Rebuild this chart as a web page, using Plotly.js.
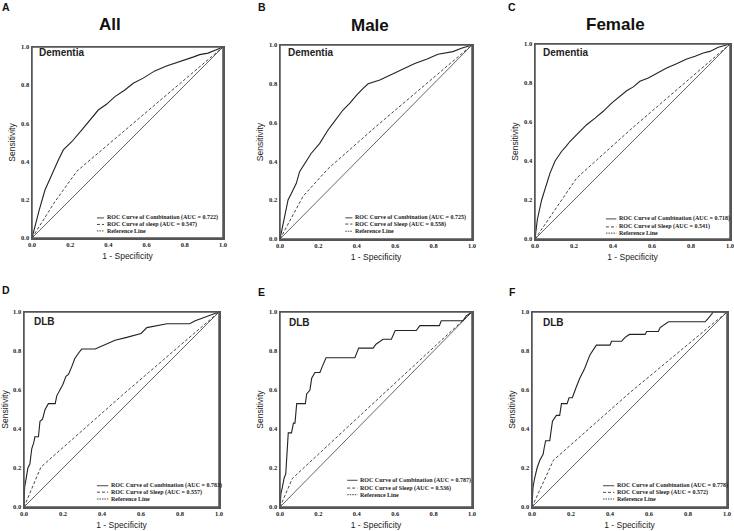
<!DOCTYPE html>
<html><head><meta charset="utf-8">
<script src="https://cdn.plot.ly/plotly-3.0.1.min.js"></script>
<style>html,body{margin:0;padding:0;background:#fff}#chart{width:734px;height:531px}</style>
</head><body><div id="chart"></div>
<script>
// ---------------- data ----------------
const panelLetters = ['A','B','C','D','E','F'];
const groupTitles = ['All','Male','Female'];
const outcomeLabels = ['Dementia','Dementia','Dementia','DLB','DLB','DLB'];
const combAUC = ['0.722','0.725','0.718','0.783','0.787','0.778'];
const sleepAUC = ['0.547','0.558','0.541','0.557','0.536','0.572'];
const sleepWord = ['sleep','Sleep','Sleep','Sleep','Sleep','Sleep'];
const tickVals = [0,0.2,0.4,0.6,0.8,1.0];
const tickText = ['0.0','0.2','0.4','0.6','0.8','1.0'];
const refX = [0,1];
const refY = [0,1];

const combA_fpr  = [0,0.012,0.025,0.038,0.068,0.098,0.138,0.164,0.208,0.26,0.321,0.347,0.39,0.434,0.486,0.53,0.582,0.643,0.704,0.782,0.843,0.878,0.922,0.965,1];
const combA_sens = [0,0.05,0.1,0.147,0.251,0.321,0.408,0.461,0.504,0.565,0.635,0.67,0.7,0.74,0.775,0.81,0.837,0.875,0.9,0.925,0.947,0.96,0.968,0.986,1];
const sleepA_fpr  = [0,0.12,0.235,0.5,0.75,0.9,1];
const sleepA_sens = [0,0.19,0.35,0.575,0.79,0.915,1];

const combB_fpr  = [0,0.01,0.021,0.042,0.059,0.085,0.102,0.128,0.163,0.207,0.25,0.276,0.312,0.328,0.364,0.399,0.433,0.459,0.52,0.572,0.624,0.659,0.702,0.763,0.823,0.901,0.945,1];
const combB_sens = [0,0.05,0.098,0.201,0.235,0.287,0.347,0.39,0.442,0.493,0.562,0.596,0.647,0.665,0.7,0.742,0.776,0.8,0.82,0.845,0.871,0.888,0.905,0.926,0.952,0.966,0.983,1];
const sleepB_fpr  = [0,0.12,0.25,0.5,0.75,0.9,1];
const sleepB_sens = [0,0.22,0.362,0.58,0.79,0.915,1];

const combC_fpr  = [0,0.012,0.034,0.055,0.077,0.103,0.137,0.159,0.179,0.214,0.239,0.265,0.308,0.35,0.393,0.436,0.47,0.504,0.538,0.581,0.624,0.675,0.726,0.778,0.821,0.863,0.897,0.94,1];
const combC_sens = [0,0.1,0.2,0.27,0.338,0.4,0.45,0.475,0.5,0.535,0.56,0.586,0.62,0.655,0.697,0.73,0.76,0.78,0.809,0.826,0.851,0.877,0.899,0.923,0.937,0.954,0.962,0.983,1];
const sleepC_fpr  = [0,0.214,0.5,0.75,0.9,1];
const sleepC_sens = [0,0.313,0.57,0.785,0.91,1];

const combD_fpr  = [0,0.003,0.01,0.02,0.03,0.04,0.05,0.056,0.074,0.082,0.095,0.108,0.125,0.16,0.168,0.185,0.2,0.215,0.228,0.245,0.26,0.28,0.296,0.365,0.39,0.42,0.467,0.527,0.56,0.6,0.63,0.68,0.733,0.85,0.878,0.92,0.964,1];
const combD_sens = [0,0.1,0.14,0.2,0.22,0.3,0.33,0.36,0.36,0.44,0.45,0.5,0.53,0.53,0.57,0.6,0.63,0.67,0.68,0.72,0.76,0.79,0.81,0.81,0.82,0.835,0.855,0.87,0.88,0.89,0.92,0.93,0.94,0.94,0.955,0.97,0.985,1];
const sleepD_fpr  = [0,0.087,0.5,1];
const sleepD_sens = [0,0.205,0.57,1];

const combE_fpr  = [0,0.005,0.012,0.022,0.03,0.035,0.043,0.06,0.07,0.078,0.087,0.132,0.139,0.156,0.165,0.182,0.208,0.22,0.24,0.39,0.4,0.41,0.485,0.5,0.537,0.58,0.6,0.71,0.728,0.83,0.84,0.953,0.97,1];
const combE_sens = [0,0.07,0.1,0.15,0.17,0.25,0.38,0.38,0.43,0.43,0.53,0.53,0.58,0.6,0.66,0.69,0.69,0.72,0.765,0.765,0.79,0.815,0.815,0.835,0.86,0.86,0.905,0.905,0.93,0.93,0.955,0.955,0.98,1];
const sleepE_fpr  = [0,0.064,0.5,0.85,1];
const sleepE_sens = [0,0.146,0.545,0.86,1];

const combF_fpr  = [0,0.005,0.014,0.026,0.04,0.057,0.062,0.07,0.091,0.096,0.105,0.125,0.142,0.151,0.18,0.19,0.207,0.225,0.245,0.27,0.297,0.33,0.4,0.408,0.46,0.477,0.5,0.58,0.588,0.648,0.657,0.7,0.888,0.906,0.93,1];
const combF_sens = [0,0.1,0.15,0.2,0.24,0.27,0.3,0.34,0.34,0.38,0.44,0.47,0.47,0.53,0.53,0.56,0.56,0.61,0.66,0.71,0.78,0.83,0.83,0.85,0.85,0.87,0.885,0.885,0.9,0.9,0.92,0.95,0.95,0.97,1,1];
const sleepF_fpr  = [0,0.11,0.5,1];
const sleepF_sens = [0,0.24,0.585,1];

const combFpr  = [combA_fpr, combB_fpr, combC_fpr, combD_fpr, combE_fpr, combF_fpr];
const combSens = [combA_sens, combB_sens, combC_sens, combD_sens, combE_sens, combF_sens];
const sleepFpr  = [sleepA_fpr, sleepB_fpr, sleepC_fpr, sleepD_fpr, sleepE_fpr, sleepF_fpr];
const sleepSens = [sleepA_sens, sleepB_sens, sleepC_sens, sleepD_sens, sleepE_sens, sleepF_sens];

// ---------------- layout config (pixel geometry) ----------------
const W = 734, H = 531;
const boxes = [[32,223,47,238],[280,472,45,239],[535,730,44,239],[24,219,312,507],[280,472,312,507],[532,727,312,507]];
const legCfg = [
  {ls:0.34, tx:0.385, rows:[0.105,0.071,0.037]},
  {ls:0.34, tx:0.385, rows:[0.109,0.077,0.04]},
  {ls:0.364, tx:0.425, rows:[0.103,0.062,0.03]},
  {ls:0.374, tx:0.44, rows:[0.109,0.076,0.041]},
  {ls:0.35, tx:0.412, rows:[0.137,0.097,0.063]},
  {ls:0.364, tx:0.43, rows:[0.109,0.075,0.041]}
];
const labelPos = [[0.026,0.969],[0.031,0.959],[0.031,0.954],[0.041,0.949],[0.036,0.944],[0.046,0.944]];
const letterPos = [[1,7],[257,6.5],[507,6.5],[1,289.5],[257,291.5],[508,291.5]];
const titlePos = [[109.5,24],[370,25],[615,24]];

const serif = 'Liberation Serif, Times New Roman, serif';
const sans = 'Liberation Sans, Arial, sans-serif';

const traces = [];
const layout = {
  width: W, height: H,
  margin: {l:0, r:0, t:0, b:0},
  paper_bgcolor: '#fff', plot_bgcolor: '#fff',
  showlegend: false,
  annotations: [], shapes: []
};

for (let i = 0; i < 6; i++) {
  const s = i === 0 ? '' : String(i + 1);
  const b = boxes[i];
  const xd = [b[0]/W, b[1]/W];
  const yd = [1 - b[3]/H, 1 - b[2]/H];
  const axCommon = {
    range: [0,1], tickvals: tickVals, ticktext: tickText,
    showgrid: false, zeroline: false, ticks: '',
    showline: true, mirror: true, linecolor: '#555', linewidth: 1.5,
    ticklabeloverflow: 'allow',
    tickfont: {family: serif, size: 6.5, color: '#222', weight: 'bold'},
    fixedrange: true
  };
  layout['xaxis' + s] = Object.assign({}, axCommon, {
    domain: xd, anchor: 'y' + s,
    title: {text: '1 - Specificity', font: {family: sans, size: 8.5, color: '#222'}, standoff: 6}
  });
  layout['yaxis' + s] = Object.assign({}, axCommon, {
    domain: yd, anchor: 'x' + s,
    title: {text: 'Sensitivity', font: {family: sans, size: 8.5, color: '#222'}, standoff: 4}
  });
  const xa = 'x' + s, ya = 'y' + s;
  traces.push({x: refX, y: refY, xaxis: xa, yaxis: ya, mode: 'lines', name: 'Reference Line',
    line: {color: '#555', width: 0.9}, hoverinfo: 'skip'});
  traces.push({x: sleepFpr[i], y: sleepSens[i], xaxis: xa, yaxis: ya, mode: 'lines', name: 'ROC Curve of Sleep',
    line: {color: '#333', width: 0.9, dash: '3px,2px'}});
  traces.push({x: combFpr[i], y: combSens[i], xaxis: xa, yaxis: ya, mode: 'lines', name: 'ROC Curve of Combination',
    line: {color: '#222', width: 1.1}});

  // plot frame
  layout.shapes.push({type: 'rect', xref: 'paper', yref: 'paper',
    x0: xd[0], x1: xd[1], y0: yd[0], y1: yd[1], line: {color: '#555', width: 1.5}, fillcolor: 'rgba(0,0,0,0)', layer: 'above'});

  // outcome label
  layout.annotations.push({xref: xa + ' domain', yref: ya + ' domain', x: labelPos[i][0], y: labelPos[i][1],
    xanchor: 'left', yanchor: 'middle', showarrow: false,
    text: '<b>' + outcomeLabels[i] + '</b>', font: {family: sans, size: 10, color: '#222'}});

  // legend
  const L = legCfg[i];
  const legTexts = [
    'ROC Curve of Combination (AUC = ' + combAUC[i] + ')',
    'ROC Curve of ' + sleepWord[i] + ' (AUC = ' + sleepAUC[i] + ')',
    'Reference Line'
  ];
  const dashes = ['solid', '3px,2px', '1.5px,1px'];
  for (let r = 0; r < 3; r++) {
    layout.shapes.push({type: 'line', xref: xa + ' domain', yref: ya + ' domain',
      x0: L.ls, x1: L.tx - 0.008, y0: L.rows[r], y1: L.rows[r],
      line: {color: '#333', width: 0.9, dash: dashes[r]}});
    layout.annotations.push({xref: xa + ' domain', yref: ya + ' domain', x: L.tx, y: L.rows[r],
      xanchor: 'left', yanchor: 'middle', showarrow: false, borderpad: 0,
      text: '<b>' + legTexts[r] + '</b>', font: {family: serif, size: 6, color: '#222'}});
  }

  // panel letter
  layout.annotations.push({xref: 'paper', yref: 'paper', x: letterPos[i][0]/W, y: 1 - letterPos[i][1]/H,
    xanchor: 'left', yanchor: 'middle', showarrow: false, borderpad: 0,
    text: '<b>' + panelLetters[i] + '</b>', font: {family: sans, size: 10.5, color: '#111'}});
}
for (let g = 0; g < 3; g++) {
  layout.annotations.push({xref: 'paper', yref: 'paper', x: titlePos[g][0]/W, y: 1 - titlePos[g][1]/H,
    xanchor: 'center', yanchor: 'middle', showarrow: false,
    text: '<b>' + groupTitles[g] + '</b>', font: {family: sans, size: 17, color: '#111'}});
}

Plotly.newPlot('chart', traces, layout, {displayModeBar: false, staticPlot: true});
</script></body></html>
